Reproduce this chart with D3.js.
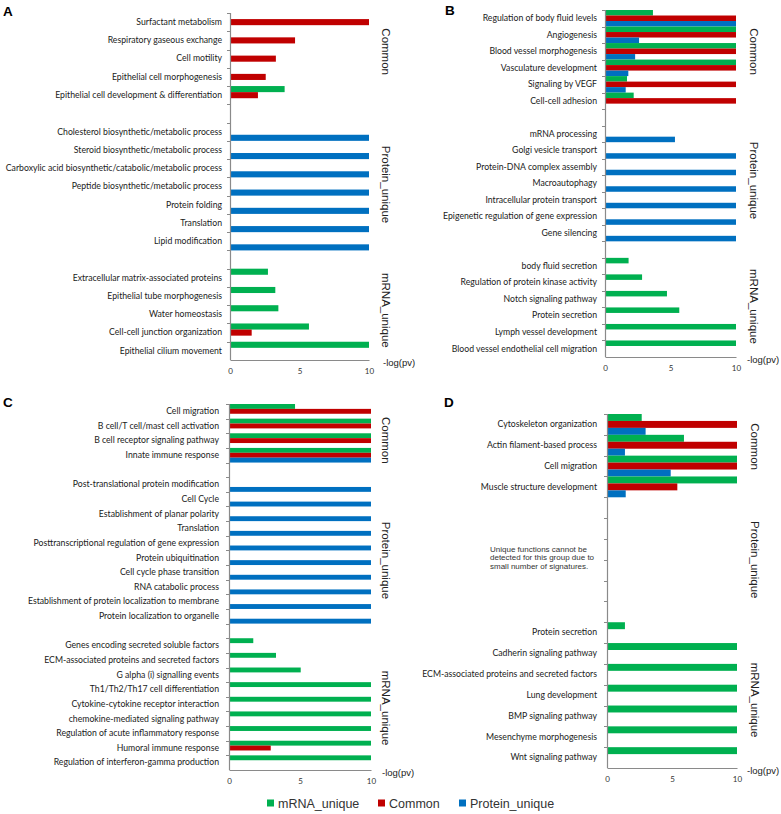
<!DOCTYPE html>
<html>
<head>
<meta charset="utf-8">
<script src="https://cdn.jsdelivr.net/npm/d3@7"></script>
<style>
  html, body { margin: 0; padding: 0; background: #fff; }
  svg { display: block; }
</style>
</head>
<body>
<svg id="chart" width="781" height="814"></svg>
<script>
// ---------------- DATA ----------------
const seriesNames = ["mRNA_unique", "Common", "Protein_unique"];
const groupNames = ["Common", "Protein_unique", "mRNA_unique"];
const xTicks = [0, 5, 10];

// Panel A
const A_sizes = [5, 7, 5];
const A_terms = [
  "Surfactant metabolism", "Respiratory gaseous exchange", "Cell motility",
  "Epithelial cell morphogenesis", "Epithelial cell development & differentiation",
  "Cholesterol biosynthetic/metabolic process", "Steroid biosynthetic/metabolic process",
  "Carboxylic acid biosynthetic/catabolic/metabolic process", "Peptide biosynthetic/metabolic process",
  "Protein folding", "Translation", "Lipid modification",
  "Extracellular matrix-associated proteins ", "Epithelial tube morphogenesis", "Water homeostasis",
  "Cell-cell junction organization", "Epithelial cilium movement"
];
const A_mRNA    = [null, null, null, null, 3.93,  null, null, null, null, null, null, null,  2.73, 3.26, 3.48, 5.68, 10];
const A_common  = [10, 4.68, 3.3, 2.57, 2.01,  null, null, null, null, null, null, null,  null, null, null, 1.56, null];
const A_protein = [null, null, null, null, null,  10, 10, 10, 10, 10, 10, 10,  null, null, null, null, null];

// Panel B
const B_sizes = [6, 7, 6];
const B_terms = [
  "Regulation of body fluid levels", "Angiogenesis", "Blood vessel morphogenesis",
  "Vasculature development", "Signaling by VEGF", "Cell-cell adhesion",
  "mRNA processing", "Golgi vesicle transport", "Protein-DNA complex assembly", "Macroautophagy",
  "Intracellular protein transport", "Epigenetic regulation of gene expression ", "Gene silencing",
  "body fluid secretion", "Regulation of protein kinase activity", "Notch signaling pathway",
  "Protein secretion", "Lymph vessel development", "Blood vessel endothelial cell migration"
];
const B_mRNA    = [3.66, 10, 10, 10, 1.68, 2.19,  null, null, null, null, null, null, null,  1.8, 2.83, 4.73, 5.67, 10, 10];
const B_common  = [10, 10, 10, 10, 10, 10,  null, null, null, null, null, null, null,  null, null, null, null, null, null];
const B_protein = [10, 2.6, 2.3, 1.78, 1.58, null,  5.34, 10, 10, 10, 10, 10, 10,  null, null, null, null, null, null];

// Panel C
const C_sizes = [4, 10, 9];
const C_terms = [
  "Cell migration", "B cell/T cell/mast cell activation", "B cell receptor signaling pathway", "Innate immune response",
  "Post-translational protein modification", "Cell Cycle", "Establishment of planar polarity", "Translation",
  "Posttranscriptional regulation of gene expression", "Protein ubiquitination", "Cell cycle phase transition",
  "RNA catabolic process", "Establishment of protein localization to membrane", "Protein localization to organelle",
  "Genes encoding secreted soluble factors", "ECM-associated proteins and secreted factors", "G alpha (i) signalling events",
  "Th1/Th2/Th17 cell differentiation", "Cytokine-cytokine receptor interaction", "chemokine-mediated signaling pathway",
  "Regulation of acute inflammatory response", "Humoral immune response", "Regulation of interferon-gamma production"
];
const C_mRNA    = [4.65, 10, 10, 10,  null, null, null, null, null, null, null, null, null, null,  1.71, 3.31, 5.05, 10, 10, 10, 10, 10, 10];
const C_common  = [10, 10, 10, 10,  null, null, null, null, null, null, null, null, null, null,  null, null, null, null, null, null, null, 2.94, null];
const C_protein = [null, null, null, 10,  10, 10, 10, 10, 10, 10, 10, 10, 10, 10,  null, null, null, null, null, null, null, null, null];

// Panel D
const D_sizes = [4, 4, 7];
const D_terms = [
  "Cytoskeleton organization", "Actin filament-based process", "Cell migration", "Muscle structure development",
  "", "", "", "",
  "Protein secretion", "Cadherin signaling pathway", "ECM-associated proteins and secreted factors",
  "Lung development", "BMP signaling pathway", "Mesenchyme morphogenesis", "Wnt signaling pathway"
];
const D_mRNA    = [2.67, 5.92, 10, 10,  null, null, null, null,  1.38, 10, 10, 10, 10, 10, 10];
const D_common  = [10, 10, 10, 5.41,  null, null, null, null,  null, null, null, null, null, null, null];
const D_protein = [2.97, 1.38, 4.9, 1.44,  null, null, null, null,  null, null, null, null, null, null, null];
const D_note = ["Unique functions cannot be", "detected for this group due to", "small number of signatures."];

// ---------------- STYLE / LAYOUT ----------------
const colors = { "mRNA_unique": "#00b050", "Common": "#c00000", "Protein_unique": "#0070c0" };
const axisColor = "#8a8a8a";
const labelFont = "Lato, 'Open Sans', sans-serif";
const sansFont = "'Liberation Sans', Arial, sans-serif";

const panels = [
  { letter: "A", terms: A_terms, sizes: A_sizes, vals: [A_mRNA, A_common, A_protein],
    x0: 230, x1: 369, top: 13, bottom: 360, pad: 8, lx: 3, ly: 16, gx: 386, goff: [-7, -2, -4], px: 14 },
  { letter: "B", terms: B_terms, sizes: B_sizes, vals: [B_mRNA, B_common, B_protein],
    x0: 605, x1: 736, top: 10, bottom: 357, pad: 8, lx: 445, ly: 15, gx: 754, goff: [-8, -3, -1], px: 11 },
  { letter: "C", terms: C_terms, sizes: C_sizes, vals: [C_mRNA, C_common, C_protein],
    x0: 229, x1: 371, top: 404, bottom: 770, pad: 10, lx: 3, ly: 407, gx: 386, goff: [7, 10, 4], px: 11 },
  { letter: "D", terms: D_terms, sizes: D_sizes, vals: [D_mRNA, D_common, D_protein],
    x0: 607, x1: 737, top: 414, bottom: 768, pad: 10, lx: 444, ly: 407, gx: 755, goff: [-9, 0, 5], px: 10,
    note: D_note, noteX: 490, noteY: 552 }
];

const svg = d3.select("#chart");

panels.forEach(p => {
  const g = svg.append("g");
  const rows = [];
  const groupKeys = [];
  let ti = 0;
  p.sizes.forEach((n, gi) => {
    if (gi > 0) rows.push({ key: p.letter + "-gap" + gi, term: "", spacer: true });
    const keys = [];
    for (let k = 0; k < n; k++, ti++) {
      const key = p.letter + "-" + ti;
      keys.push(key);
      rows.push({ key, term: p.terms[ti], idx: ti });
    }
    groupKeys.push(keys);
  });

  const y = d3.scaleBand().domain(rows.map(r => r.key)).range([p.top, p.bottom]).paddingInner(0).paddingOuter(0);
  const ys = d3.scaleBand().domain(seriesNames).range([0, y.bandwidth()]).padding(0);
  const x = d3.scaleLinear().domain([0, 10]).range([p.x0, p.x1]);

  // Bars
  rows.filter(r => !r.spacer).forEach(r => {
    seriesNames.forEach((s, si) => {
      const v = p.vals[si][r.idx];
      if (v == null) return;
      g.append("rect")
        .attr("x", x(0) + 0.5)
        .attr("y", y(r.key) + ys(s))
        .attr("width", Math.max(0, x(v) - x(0) - 0.5))
        .attr("height", ys.bandwidth())
        .attr("fill", colors[s]);
    });
  });

  // Y axis labels
  const termOf = {};
  rows.forEach(r => termOf[r.key] = r.term);
  const yAxis = d3.axisLeft(y).tickSize(0).tickPadding(p.pad).tickFormat(k => termOf[k]);
  const ya = g.append("g").attr("transform", `translate(${p.x0},0)`).call(yAxis);
  ya.select(".domain").remove();
  ya.selectAll("text").attr("font-family", labelFont).attr("font-size", 8.7).attr("fill", "#1a1a1a");

  // Y axis line and boundary ticks
  g.append("line").attr("x1", p.x0 + 0.5).attr("x2", p.x0 + 0.5)
    .attr("y1", p.top).attr("y2", p.bottom).attr("stroke", axisColor).attr("stroke-width", 1.2);
  const bounds = rows.map(r => y(r.key));
  g.selectAll(null).data(bounds).enter().append("line")
    .attr("x1", p.x0 - 3).attr("x2", p.x0 + 0.5)
    .attr("y1", d => Math.round(d) + 0.5).attr("y2", d => Math.round(d) + 0.5)
    .attr("stroke", axisColor).attr("stroke-width", 1);

  // X axis
  const xAxis = d3.axisBottom(x).tickValues(xTicks).tickSize(0).tickPadding(8).tickFormat(d3.format("d"));
  const xa = g.append("g").attr("transform", `translate(0,${p.bottom})`).call(xAxis);
  xa.select(".domain").attr("stroke", axisColor).attr("stroke-width", 1.2);
  xa.selectAll("text").attr("font-family", labelFont).attr("font-size", 8).attr("fill", "#333");

  // -log(pv)
  g.append("text").attr("x", p.x1 + p.px).attr("y", p.bottom + 5.5)
    .attr("font-family", sansFont).attr("font-size", 9.5).attr("fill", "#222").text("-log(pv)");

  // Group labels (rotated)
  groupKeys.forEach((keys, gi) => {
    const y0 = y(keys[0]);
    const y1 = y(keys[keys.length - 1]) + y.bandwidth();
    const cy = (y0 + y1) / 2 + p.goff[gi];
    g.append("text")
      .attr("transform", `translate(${p.gx},${cy}) rotate(90)`)
      .attr("text-anchor", "middle").attr("dy", "0.35em")
      .attr("font-family", sansFont).attr("font-size", 11.5).attr("fill", "#222")
      .text(groupNames[gi]);
  });

  // Panel letter
  g.append("text").attr("x", p.lx).attr("y", p.ly)
    .attr("font-family", sansFont).attr("font-weight", "bold").attr("font-size", 13.5)
    .attr("fill", "#000").text(p.letter);

  // Note
  if (p.note) {
    g.append("g").selectAll("text").data(p.note).enter().append("text")
      .attr("x", p.noteX).attr("y", (d, i) => p.noteY + i * 8.3)
      .attr("font-family", sansFont).attr("font-size", 8).attr("fill", "#333")
      .text(d => d);
  }
});

// Legend
const legendX = [267, 378, 459];
const legend = svg.append("g");
seriesNames.forEach((s, i) => {
  legend.append("rect").attr("x", legendX[i]).attr("y", 799.5).attr("width", 7).attr("height", 7).attr("fill", colors[s]);
  legend.append("text").attr("x", legendX[i] + 11).attr("y", 807.5)
    .attr("font-family", sansFont).attr("font-size", 12.5).attr("fill", "#333").text(s);
});
</script>
</body>
</html>
